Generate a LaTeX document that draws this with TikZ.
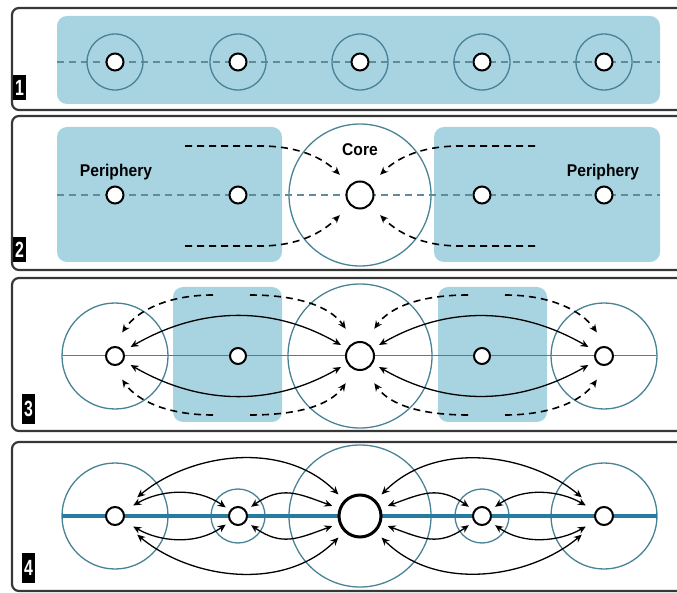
\documentclass[tikz,border=0pt]{standalone}
\usepackage{fontspec}
\setmainfont{Liberation Sans}
\newfontfamily\zonefont{Liberation Sans}[FakeStretch=0.92]
\newfontfamily\tagfont{Liberation Sans}[FakeStretch=0.72]
\usetikzlibrary{arrows.meta}

\definecolor{zoneblue}{RGB}{168,212,226}
\definecolor{ringblue}{RGB}{72,130,150}
\definecolor{axisblue}{RGB}{95,140,155}
\definecolor{lineblue}{RGB}{38,124,160}
\definecolor{framegray}{RGB}{55,55,55}

\tikzset{
  panel/.style={draw=framegray, line width=2.2pt, rounded corners=7pt},
  zone/.style={fill=zoneblue, rounded corners=10pt},
  ring/.style={draw=ringblue, line width=1.3pt},
  axis/.style={draw=axisblue, line width=1.3pt, dash pattern=on 7pt off 5pt},
  dot/.style={circle, draw=black, fill=white, line width=2pt, inner sep=0pt, minimum size=#1},
  dot/.default=18pt,
  flow/.style={<->, line width=1.3pt},
  feed/.style={->, line width=1.6pt, dash pattern=on 7pt off 5pt},
  tag/.style={fill=black, text=white, inner sep=0pt, minimum width=13pt, minimum height=#1,
    font=\tagfont\bfseries\fontsize{22}{22}\selectfont},
  zonetext/.style={font=\zonefont\bfseries\fontsize{17}{17}\selectfont}
}

\begin{document}
\begin{tikzpicture}[x=1pt, y=1pt, >={Stealth[length=8pt,width=7pt]}]
\useasboundingbox (0,0) rectangle (677,592);
\clip (0,0) rectangle (677,592);

% Panel 1: even spread
\draw[panel] (12,482) rectangle (700,584);
\fill[zone] (57,488) rectangle (660,576);
\coordinate (w1) at (57,530);
\coordinate (e1) at (660,530);
\draw[axis] (w1) -- (e1);
\draw[ring] (115,530) circle (28);
\draw[ring] (238,530) circle (28);
\draw[ring] (360,530) circle (28);
\draw[ring] (482,530) circle (28);
\draw[ring] (604,530) circle (28);
\node[dot=17pt] (p1a) at (115,530) {};
\node[dot=17pt] (p1b) at (238,530) {};
\node[dot=17pt] (p1c) at (360,530) {};
\node[dot=17pt] (p1d) at (482,530) {};
\node[dot=17pt] (p1e) at (604,530) {};
\node[tag=25pt] (t1) at (19.5,504) {1};

% Panel 2: core and periphery
\draw[panel] (12,322) rectangle (700,476);
\fill[zone] (57,330) rectangle (282,465);
\fill[zone] (434,330) rectangle (660,465);
\draw[ring, fill=white] (360,397) circle (71);
\coordinate (w2) at (57,397);
\coordinate (e2) at (660,397);
\draw[axis] (w2) -- (e2);
\node[dot=17pt] (p2a) at (115,397) {};
\node[dot=17pt] (p2b) at (238,397) {};
\node[dot=27pt] (c2) at (360,397) {};
\node[dot=17pt] (p2d) at (482,397) {};
\node[dot=17pt] (p2e) at (604,397) {};
\node[zonetext] (per2a) at (116,420) {Periphery};
\node[zonetext] (per2b) at (603,420) {Periphery};
\node[zonetext] (core2) at (360,442) {Core};
% inflows to the core
\coordinate (q2a) at (185,446);
\coordinate (q2b) at (185,346);
\coordinate (q2c) at (535,446);
\coordinate (q2d) at (535,346);
\draw[feed, shorten >=14pt] (q2a) -- ++(75,0) to[out=0,in=135] (c2);
\draw[feed, shorten >=14pt] (q2b) -- ++(75,0) to[out=0,in=-135] (c2);
\draw[feed, shorten >=14pt] (q2c) -- ++(-75,0) to[out=180,in=45] (c2);
\draw[feed, shorten >=14pt] (q2d) -- ++(-75,0) to[out=180,in=-45] (c2);
\node[tag=25pt] (t2) at (19.5,342) {2};

% Panel 3: two poles
\draw[panel] (12,161) rectangle (700,314);
\fill[zone] (173,170) rectangle (282,305);
\fill[zone] (438,170) rectangle (547,305);
\draw[ring] (115,236) circle (53);
\draw[ring] (360,236) circle (72);
\draw[ring] (604,236) circle (53);
\coordinate (w3) at (62,236);
\coordinate (e3) at (657,236);
\draw[ringblue, line width=1pt] (w3) -- (e3);
\node[dot=18pt] (l3) at (115,236) {};
\node[dot=16pt] (m3) at (238,236) {};
\node[dot=28pt] (c3) at (360,236) {};
\node[dot=16pt] (n3) at (482,236) {};
\node[dot=18pt] (r3) at (604,236) {};
% exchange between the poles
\draw[flow, shorten <=8pt, shorten >=7pt] (l3) to[out=30,in=150] (c3);
\draw[flow, shorten <=8pt, shorten >=7pt] (l3) to[out=-30,in=-150] (c3);
\draw[flow, shorten <=7pt, shorten >=8pt] (c3) to[out=30,in=150] (r3);
\draw[flow, shorten <=7pt, shorten >=8pt] (c3) to[out=-30,in=-150] (r3);
% drain from the zones
\coordinate (u3a) at (213,297);
\coordinate (u3b) at (250,297);
\coordinate (u3c) at (468,297);
\coordinate (u3d) at (505,297);
\coordinate (v3a) at (213,177);
\coordinate (v3b) at (250,177);
\coordinate (v3c) at (468,177);
\coordinate (v3d) at (505,177);
\draw[feed, shorten >=17pt] (u3a) to[out=180,in=55] (l3.105);
\draw[feed, shorten >=16pt] (u3b) to[out=0,in=125] (c3.110);
\draw[feed, shorten >=16pt] (u3c) to[out=180,in=55] (c3.70);
\draw[feed, shorten >=17pt] (u3d) to[out=0,in=125] (r3.75);
\draw[feed, shorten >=17pt] (v3a) to[out=180,in=-55] (l3.-105);
\draw[feed, shorten >=16pt] (v3b) to[out=0,in=-125] (c3.-110);
\draw[feed, shorten >=16pt] (v3c) to[out=180,in=-55] (c3.-70);
\draw[feed, shorten >=17pt] (v3d) to[out=0,in=-125] (r3.-75);
\node[tag=30pt] (t3) at (28.5,183) {3};

% Panel 4: network of centres
\draw[panel] (12,1) rectangle (700,150);
\draw[ring] (115,76) circle (53);
\draw[ring] (238,76) circle (27);
\draw[ring] (360,76) circle (71);
\draw[ring] (482,76) circle (27);
\draw[ring] (604,76) circle (53);
\coordinate (w4) at (62,76);
\coordinate (e4) at (657,76);
\draw[lineblue, line width=3.5pt] (w4) -- (e4);
\node[dot=18pt] (l4) at (115,76) {};
\node[dot=18pt] (m4) at (238,76) {};
\node[dot=42pt, line width=3pt] (c4) at (360,76) {};
\node[dot=18pt] (n4) at (482,76) {};
\node[dot=18pt] (r4) at (604,76) {};
% long links
\draw[flow, shorten <=19pt, shorten >=8pt] (l4) to[out=40,in=135] (c4);
\draw[flow, shorten <=19pt, shorten >=8pt] (l4) to[out=-40,in=-135] (c4);
\draw[flow, shorten <=8pt, shorten >=19pt] (c4) to[out=45,in=140] (r4);
\draw[flow, shorten <=8pt, shorten >=19pt] (c4) to[out=-45,in=-140] (r4);
% short links
\draw[flow, shorten <=11pt, shorten >=5pt] (l4) to[out=30,in=145] (m4);
\draw[flow, shorten <=11pt, shorten >=5pt] (l4) to[out=-30,in=-145] (m4);
\draw[flow, shorten <=6pt, shorten >=7pt, looseness=1.2] (m4) to[out=35,in=160] (c4);
\draw[flow, shorten <=6pt, shorten >=7pt, looseness=1.2] (m4) to[out=-35,in=-160] (c4);
\draw[flow, shorten <=7pt, shorten >=6pt, looseness=1.2] (c4) to[out=20,in=145] (n4);
\draw[flow, shorten <=7pt, shorten >=6pt, looseness=1.2] (c4) to[out=-20,in=-145] (n4);
\draw[flow, shorten <=6pt, shorten >=11pt] (n4) to[out=35,in=150] (r4);
\draw[flow, shorten <=6pt, shorten >=11pt] (n4) to[out=-35,in=-150] (r4);
\node[tag=30pt] (t4) at (28.5,24) {4};
\end{tikzpicture}
\end{document}
